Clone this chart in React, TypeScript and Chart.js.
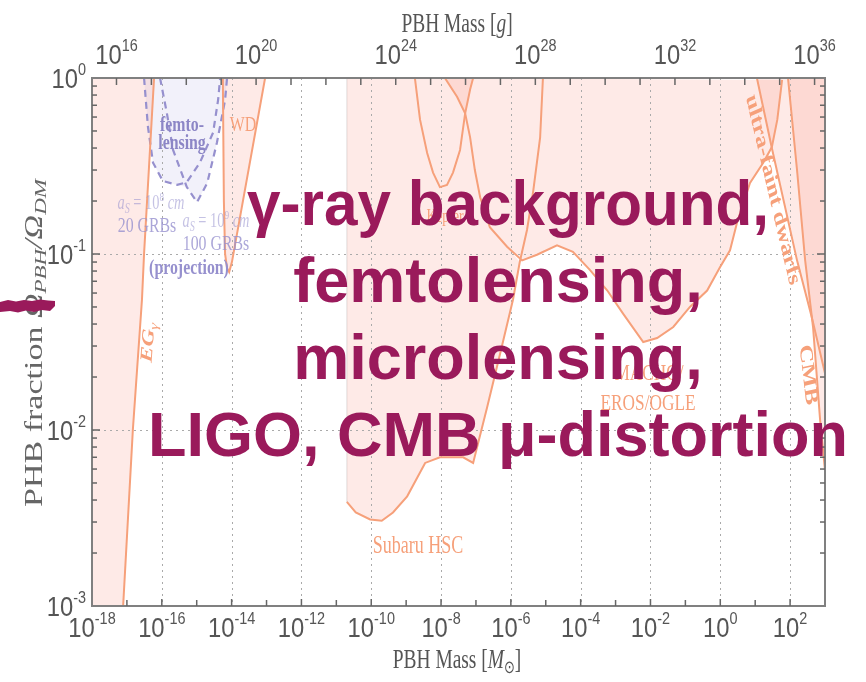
import React, { useEffect, useRef } from "react";
import { Chart, registerables } from "chart.js";

Chart.register(...registerables);

// Axis limits (solar masses / dark-matter fraction)
const X_MIN = 1e-18;
const X_MAX = 1e3;
const Y_MIN = 1e-3;
const Y_MAX = 1;
const MSUN_G = 1.989e33;

// Tick exponents
const BOTTOM_LABEL_EXP = [-18, -16, -14, -12, -10, -8, -6, -4, -2, 0, 2];
const TOP_LABEL_EXP_G = [16, 20, 24, 28, 32, 36];
const Y_LABEL_EXP = [0, -1, -2, -3];

// Constraint curves: [mass in M_sun, f_PBH]
const egGamma: [number, number][] = [
  [7.8e-18, 0.001], [1.48e-17, 0.01], [2.7e-17, 0.055], [3.1e-17, 0.1], [6.0e-17, 1],
];
const whiteDwarf: [number, number][] = [
  [5.6e-15, 1], [6.0e-15, 0.2], [6.5e-15, 0.1], [7.4e-15, 0.083], [8.5e-15, 0.079],
  [1.02e-14, 0.09], [9.1e-14, 1],
];
const femto20: [number, number][] = [
  [3.1e-17, 1], [4.0e-17, 0.53], [5.6e-17, 0.33], [1.07e-16, 0.26], [2.75e-16, 0.247],
  [5.2e-16, 0.256], [1.23e-15, 0.33], [2.95e-15, 0.49], [4.1e-15, 0.75], [4.7e-15, 1],
];
const femto100: [number, number][] = [
  [8.9e-17, 1], [1.4e-16, 0.63], [2.1e-16, 0.39], [5.2e-16, 0.24], [1.02e-15, 0.197],
  [2.0e-15, 0.253], [3.8e-15, 0.43], [6.5e-15, 0.75], [7.4e-15, 1],
];
const subaru: [number, number][] = [
  [2.0e-11, 3.9e-3], [3.6e-11, 3.4e-3], [9.3e-11, 3.1e-3], [2.0e-10, 3.05e-3],
  [4.2e-10, 3.4e-3], [1.07e-9, 4.2e-3], [3.5e-9, 6.5e-3], [9.3e-9, 7.0e-3],
  [4.3e-8, 7.0e-3], [8.3e-8, 6.5e-3], [2.1e-7, 1.35e-2], [4.9e-7, 2.7e-2],
  [1.15e-6, 5.5e-2], [1.8e-6, 0.09], [2.9e-6, 0.137], [4.4e-6, 0.23], [6.9e-6, 0.46],
  [8.3e-6, 1],
];
const kepler: [number, number][] = [
  [1.78e-9, 1], [2.5e-9, 0.58], [4.0e-9, 0.375], [5.9e-9, 0.29], [9.3e-9, 0.24],
  [1.48e-8, 0.247], [2.2e-8, 0.29], [3.5e-8, 0.39], [4.9e-8, 0.63], [6.8e-8, 0.86],
  [8.3e-8, 1],
];
const machoEros: [number, number][] = [
  [1.29e-8, 1], [2.9e-8, 0.78], [4.9e-8, 0.63], [6.8e-8, 0.46], [9.3e-8, 0.3],
  [1.32e-7, 0.21], [2.5e-7, 0.142], [7.8e-7, 0.11], [2.1e-6, 0.092], [5.6e-6, 0.099],
  [2.1e-5, 0.112], [6.0e-5, 0.103], [1.86e-4, 0.081], [5.8e-4, 0.062], [1.62e-3, 0.046],
  [6.2e-3, 0.0316], [0.0155, 0.0333], [0.045, 0.0385], [0.135, 0.05], [0.42, 0.062],
  [0.98, 0.084], [1.9, 0.105], [3.0, 0.15], [7.1, 0.253], [17, 0.33], [30, 0.405],
  [43, 0.58], [59, 0.975],
];
const ultraFaint: [number, number][] = [
  [11.2, 1], [30, 0.4], [158, 0.092], [427, 0.043], [1000, 0.021],
];
const cmb: [number, number][] = [
  [87, 1], [158, 0.3], [270, 0.092], [457, 0.038], [724, 0.0114], [1000, 0.0059],
];

const HEADLINE = ["γ-ray background,", "femtolensing,", "microlensing,", "LIGO, CMB μ-distortion"];

const ORANGE = "rgb(246,160,122)";
const PINK = "rgba(248,128,110,0.17)";
const LAVENDER = "rgba(150,140,210,0.12)";
const PURPLE = "rgb(150,144,206)";
const MAGENTA = "#9a1a5b";
const GREY_TXT = "#555";
const SERIF = '"Liberation Serif", "DejaVu Serif", serif';
const SANS = '"Liberation Sans", Arial, sans-serif';
const SQ = 0.72;

const pts = (a: [number, number][]) => a.map(([x, y]) => ({ x, y }));

const fillSet = (data: [number, number][], color: string) => ({
  data: pts(data), showLine: true, fill: "shape", backgroundColor: color,
  borderWidth: 0, borderColor: "rgba(0,0,0,0)", pointRadius: 0, tension: 0,
});
const lineSet = (data: [number, number][], color = ORANGE, dash: number[] = [], width = 2) => ({
  data: pts(data), showLine: true, fill: false, borderColor: color, borderWidth: width,
  borderDash: dash, pointRadius: 0, tension: 0,
});

type Part = { t: string; f: string; dy?: number };
function rich(ctx: CanvasRenderingContext2D, parts: Part[], x: number, y: number, color: string,
  align: "left" | "center" | "right" = "center", sx = 1, rot = 0) {
  ctx.save();
  ctx.translate(x, y);
  ctx.scale(sx, 1);
  ctx.rotate(rot);
  ctx.fillStyle = color;
  ctx.textBaseline = "alphabetic";
  ctx.textAlign = "left";
  let w = 0;
  const ws = parts.map((p) => { ctx.font = p.f; const m = ctx.measureText(p.t).width; w += m; return m; });
  let cx = align === "center" ? -w / 2 : align === "right" ? -w : 0;
  parts.forEach((p, i) => { ctx.font = p.f; ctx.fillText(p.t, cx, p.dy ?? 0); cx += ws[i]; });
  ctx.restore();
}
const txt = (ctx: CanvasRenderingContext2D, s: string, x: number, y: number, font: string,
  color: string, sx = SQ, rot = 0) => rich(ctx, [{ t: s, f: font }], x, y, color, "center", sx, rot);

const pow10 = (e: string, big = 28, small = 17): Part[] => [
  { t: "10", f: `${big}px ${SANS}` }, { t: e, f: `${small}px ${SANS}`, dy: -13 },
];

const decor = {
  id: "decor",
  beforeDatasetsDraw(chart: any) {
    const { ctx, chartArea: a, scales: { x, y } } = chart;
    ctx.save();
    ctx.strokeStyle = "#aaa";
    ctx.lineWidth = 1;
    ctx.setLineDash([2, 4]);
    BOTTOM_LABEL_EXP.slice(1).forEach((e) => {
      const px = Math.round(x.getPixelForValue(10 ** e)) + 0.5;
      ctx.beginPath(); ctx.moveTo(px, a.top); ctx.lineTo(px, a.bottom); ctx.stroke();
    });
    [0.1, 0.01].forEach((v) => {
      const py = Math.round(y.getPixelForValue(v)) + 0.5;
      ctx.beginPath(); ctx.moveTo(a.left, py); ctx.lineTo(a.right, py); ctx.stroke();
    });
    ctx.restore();
  },
  afterDatasetsDraw(chart: any) {
    const { ctx, chartArea: a, scales: { x, y } } = chart;
    ctx.save();
    // region labels
    txt(ctx, "femto-", 182, 131, `bold 22px ${SERIF}`, "rgb(140,134,198)");
    txt(ctx, "lensing", 182, 149, `bold 22px ${SERIF}`, "rgb(140,134,198)");
    const lp = "rgba(150,144,206,0.55)";
    rich(ctx, [
      { t: "a", f: `italic 20px ${SERIF}` }, { t: "S", f: `italic 14px ${SERIF}`, dy: 4 },
      { t: " = 10", f: `20px ${SERIF}` }, { t: "8", f: `13px ${SERIF}`, dy: -8 },
      { t: " cm", f: `italic 20px ${SERIF}` },
    ], 151, 209, lp, "center", SQ);
    txt(ctx, "20 GRBs", 147, 232, `22px ${SERIF}`, "rgba(150,144,206,0.8)");
    rich(ctx, [
      { t: "a", f: `italic 20px ${SERIF}` }, { t: "S", f: `italic 14px ${SERIF}`, dy: 4 },
      { t: " = 10", f: `20px ${SERIF}` }, { t: "9", f: `13px ${SERIF}`, dy: -8 },
      { t: " cm", f: `italic 20px ${SERIF}` },
    ], 216, 227, lp, "center", SQ);
    txt(ctx, "100 GRBs", 216, 250, `22px ${SERIF}`, "rgba(150,144,206,0.8)");
    txt(ctx, "(projection)", 189, 274, `bold 22px ${SERIF}`, "rgb(150,144,206)");
    txt(ctx, "WD", 243, 131, `22px ${SERIF}`, ORANGE);
    txt(ctx, "Kepler", 445, 222, `19px ${SERIF}`, ORANGE);
    txt(ctx, "MACHO/", 649, 380, `24px ${SERIF}`, ORANGE);
    txt(ctx, "EROS/OGLE", 648, 410, `24px ${SERIF}`, ORANGE);
    txt(ctx, "Subaru HSC", 418, 553, `25px ${SERIF}`, ORANGE);
    txt(ctx, "ultra-faint dwarfs", 768, 192, `bold 26px ${SERIF}`, ORANGE, SQ, (72 * Math.PI) / 180);
    txt(ctx, "CMB", 803, 376, `bold 26px ${SERIF}`, ORANGE, SQ, (81 * Math.PI) / 180);
    rich(ctx, [
      { t: "EG", f: `bold italic 24px ${SERIF}` }, { t: "γ", f: `italic 17px ${SERIF}`, dy: 5 },
    ], 153, 343, ORANGE, "center", SQ, (-84.5 * Math.PI) / 180);

    // frame
    ctx.strokeStyle = "#808080";
    ctx.lineWidth = 2;
    ctx.strokeRect(a.left, a.top, a.right - a.left, a.bottom - a.top);

    // ticks
    ctx.strokeStyle = "#666";
    ctx.lineWidth = 1.5;
    const line = (x1: number, y1: number, x2: number, y2: number) => {
      ctx.beginPath(); ctx.moveTo(x1, y1); ctx.lineTo(x2, y2); ctx.stroke();
    };
    for (let e = -17; e <= 2; e++) {
      const px = x.getPixelForValue(10 ** e);
      line(px, a.bottom, px, a.bottom - (e % 2 === 0 ? 7 : 6));
    }
    for (let k = 16; k <= 36; k++) {
      const px = x.getPixelForValue(10 ** k / MSUN_G);
      line(px, a.top, px, a.top + 7);
    }
    for (let e = -3; e < 0; e++) {
      for (let m = 1; m < 10; m++) {
        const py = y.getPixelForValue(m * 10 ** e);
        const len = m === 1 ? 8 : 5;
        if (m > 1 || e > -3) {
          line(a.left, py, a.left + len, py);
          line(a.right, py, a.right - len, py);
        }
      }
    }

    // tick labels
    BOTTOM_LABEL_EXP.forEach((e) => {
      rich(ctx, pow10(String(e)), x.getPixelForValue(10 ** e), 637, GREY_TXT, "center", 0.85);
    });
    TOP_LABEL_EXP_G.forEach((k) => {
      rich(ctx, pow10(String(k)), x.getPixelForValue(10 ** k / MSUN_G), 64, GREY_TXT, "center", 0.85);
    });
    Y_LABEL_EXP.forEach((e) => {
      rich(ctx, pow10(String(e)), 86, y.getPixelForValue(10 ** e) + 10, GREY_TXT, "right", 0.85);
    });

    // axis titles
    rich(ctx, [
      { t: "PBH Mass [", f: `27px ${SERIF}` }, { t: "g", f: `italic 27px ${SERIF}` },
      { t: "]", f: `27px ${SERIF}` },
    ], 457, 32, GREY_TXT, "center", SQ);
    rich(ctx, [
      { t: "PBH Mass [", f: `27px ${SERIF}` }, { t: "M", f: `italic 27px ${SERIF}` },
      { t: "⊙", f: `18px "DejaVu Sans"`, dy: 5 }, { t: "]", f: `27px ${SERIF}` },
    ], 457, 668, GREY_TXT, "center", SQ);
    rich(ctx, [
      { t: "PHB fraction ", f: `34px ${SERIF}` },
      { t: "Ω", f: `italic 34px ${SERIF}` }, { t: "PBH", f: `italic 23px ${SERIF}`, dy: 6 },
      { t: "/Ω", f: `italic 34px ${SERIF}` }, { t: "DM", f: `italic 23px ${SERIF}`, dy: 6 },
    ], 42, 343, "#666", "center", SQ, -Math.PI / 2);

    // overlay headline
    HEADLINE.forEach((s, i) => {
      const f = `bold 63px ${SANS}`;
      if (i === 0) rich(ctx, [{ t: s, f }], 508, 225, MAGENTA, "center", 0.956);
      else rich(ctx, [{ t: s, f }], 498, 225 + i * 77, MAGENTA, "center", 1);
    });

    // brush stroke at the left edge
    ctx.fillStyle = MAGENTA;
    ctx.beginPath();
    const top = [[0, 302], [8, 300], [16, 301.5], [24, 300], [32, 301], [40, 299.5], [48, 300.5], [55, 301]];
    const bot = [[55, 306], [50, 311], [42, 310], [34, 312], [26, 310.5], [18, 312.5], [10, 311], [0, 312]];
    [...top, ...bot].forEach(([px, py], i) => (i ? ctx.lineTo(px, py) : ctx.moveTo(px, py)));
    ctx.closePath();
    ctx.fill();
    ctx.restore();
  },
};

export default function App() {
  const ref = useRef<HTMLCanvasElement>(null);
  useEffect(() => {
    // Subaru HSC area outside the Kepler and MACHO/EROS regions (those carry their own fill)
    const subaruOnly: [number, number][] = [
      [subaru[0][0], Y_MAX],
      ...subaru.slice(0, 14),
      ...machoEros.slice(2, 8).reverse(),
      ...kepler.slice(0, 8).reverse(),
    ];
    const datasets: any[] = [
      fillSet([[X_MIN, Y_MIN], ...egGamma, [X_MIN, Y_MAX]], PINK),
      fillSet(whiteDwarf, PINK),
      fillSet([...femto20.slice(0, 5), ...femto100.slice(3)], LAVENDER),
      fillSet(subaruOnly, PINK),
      fillSet(kepler, PINK),
      fillSet(machoEros, PINK),
      fillSet([...ultraFaint, [X_MAX, Y_MAX]], PINK),
      fillSet([...cmb, [X_MAX, Y_MAX]], PINK),
      lineSet([[subaru[0][0], Y_MAX], subaru[0]], "rgba(0,0,0,0.08)", [], 1.5),
      lineSet(egGamma),
      lineSet(whiteDwarf),
      lineSet(femto20, PURPLE, [7, 5], 2.2),
      lineSet(femto100, PURPLE, [7, 5], 2.2),
      lineSet(subaru),
      lineSet(kepler),
      lineSet(machoEros),
      lineSet(ultraFaint),
      lineSet(cmb),
    ];
    const chart = new Chart(ref.current!, {
      type: "scatter",
      data: { datasets },
      options: {
        animation: false,
        responsive: false,
        events: [],
        layout: { padding: { left: 92, top: 78, right: 41, bottom: 76 } },
        plugins: {
          legend: { display: false },
          tooltip: { enabled: false },
          filler: { drawTime: "beforeDatasetsDraw" },
        },
        scales: {
          x: { type: "logarithmic", min: X_MIN, max: X_MAX, display: false },
          y: { type: "logarithmic", min: Y_MIN, max: Y_MAX, display: false },
        },
      },
      plugins: [decor],
    } as any);
    return () => chart.destroy();
  }, []);
  return (
    <div style={{ position: "absolute", left: 0, top: 0, width: 866, height: 682, background: "#fff" }}>
      <canvas ref={ref} width={866} height={682} style={{ display: "block", width: 866, height: 682 }} />
    </div>
  );
}
